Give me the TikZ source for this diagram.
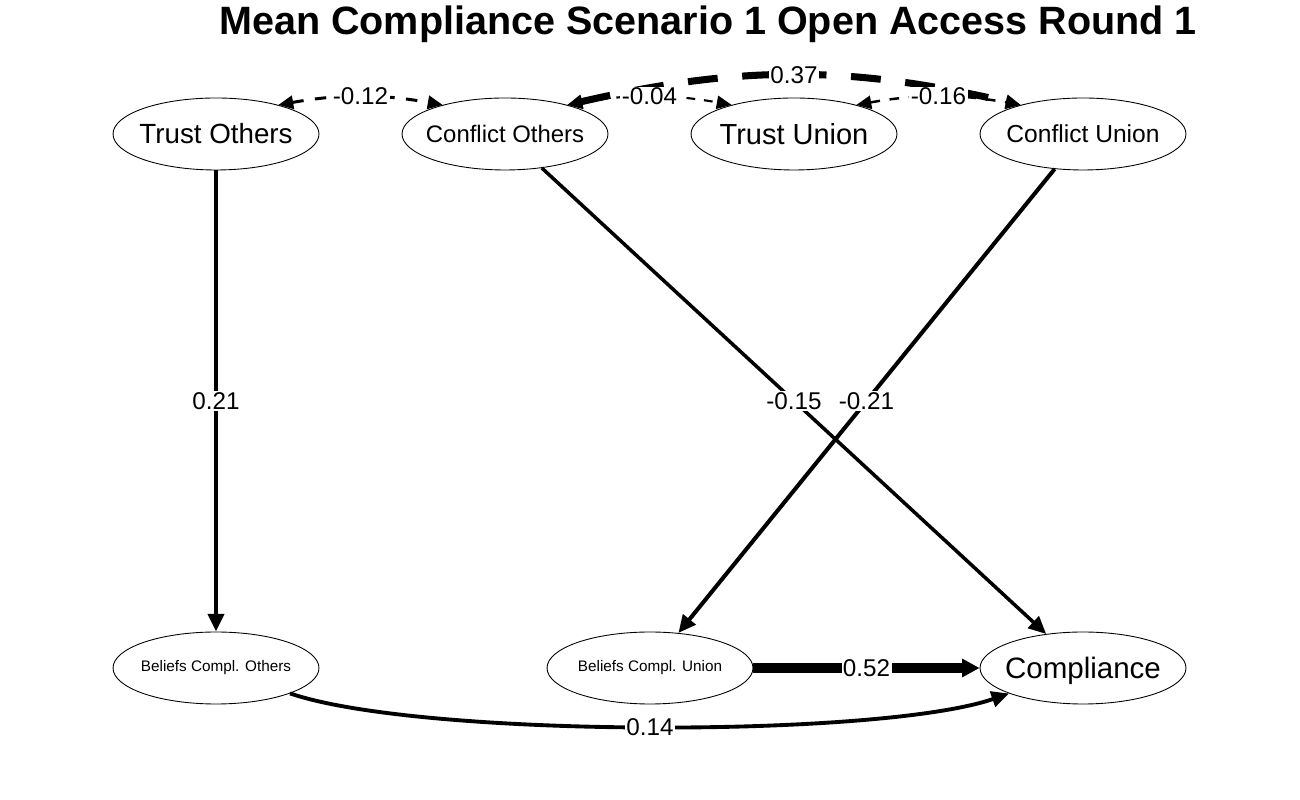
\documentclass[tikz,border=0pt]{standalone}
\usepackage{fontspec}
\setmainfont{Liberation Sans}
\usetikzlibrary{arrows.meta,shapes.geometric}
\begin{document}
\begin{tikzpicture}[x=0.02cm,y=0.02cm,
  latent/.style={ellipse, draw=black, line width=0.5pt, minimum width=4.12cm, minimum height=1.44cm, inner sep=0pt},
  elab/.style={font=\fontsize{13.8}{14}\selectfont, fill=white, inner sep=0.8pt},
  regr/.style={-{Triangle[length=10pt,width=9pt]}},
  cov/.style={{Triangle[length=8.5pt,width=7.5pt]}-{Triangle[length=8.5pt,width=7.5pt]}},
  ttl/.style={font=\bfseries\fontsize{22.5}{24}\selectfont}]
\fill[white] (0,0) rectangle (1300,800);
\useasboundingbox (0,0) rectangle (1300,800);
\node[ttl] (title) at (708,776) {Mean Compliance Scenario 1 Open Access Round 1};
% nodes
\node[latent, label={[font=\fontsize{15.8}{16}\selectfont]center:Trust Others}] (to) at (216,666) {};
\node[latent, label={[font=\fontsize{13.6}{14}\selectfont]center:Conflict Others}] (co) at (505,666) {};
\node[latent, label={[font=\fontsize{16.5}{17}\selectfont]center:Trust Union}] (tu) at (794,666) {};
\node[latent, label={[font=\fontsize{14}{15}\selectfont]center:Conflict Union}] (cu) at (1083,666) {};
\node[latent, label={[font=\fontsize{8.7}{9}\selectfont]center:Beliefs Compl. Others}] (bco) at (216,132) {};
\node[latent, label={[font=\fontsize{8.7}{9}\selectfont]center:Beliefs Compl. Union}] (bcu) at (650,132) {};
\node[latent, label={[font=\fontsize{16.8}{17}\selectfont,yshift=-1.5pt]center:Compliance}] (comp) at (1083,132) {};
% regressions
\draw[regr, line width=2.3pt] (to) -- node[elab]{0.21} (bco);
\draw[regr, line width=2pt] (co) -- node[elab]{-0.15} (comp);
\draw[regr, line width=2.3pt] (cu) -- node[elab]{-0.21} (bcu);
\draw[line width=5.7pt, -{Triangle[length=10pt,width=10pt]}] (bcu) -- node[elab]{0.52} (comp);
\draw[regr, line width=2.2pt] (bco) .. controls (420,62) and (880,62) .. node[elab]{0.14} (comp);
% covariances
\draw[cov, line width=4pt, dash pattern=on 17pt off 14pt] (co.25) to[bend left=13] node[elab]{0.37} (cu.155);
\draw[cov, line width=1.7pt, dash pattern=on 6.5pt off 6.5pt] (to.25) to[bend left=10] node[elab]{-0.12} (co.155);
\draw[cov, line width=1.2pt, dash pattern=on 5pt off 5pt] (co.25) to[bend left=10] node[elab]{-0.04} (tu.155);
\draw[cov, line width=1.4pt, dash pattern=on 5.5pt off 5.5pt] (tu.25) to[bend left=10] node[elab]{-0.16} (cu.155);
\end{tikzpicture}
\end{document}
